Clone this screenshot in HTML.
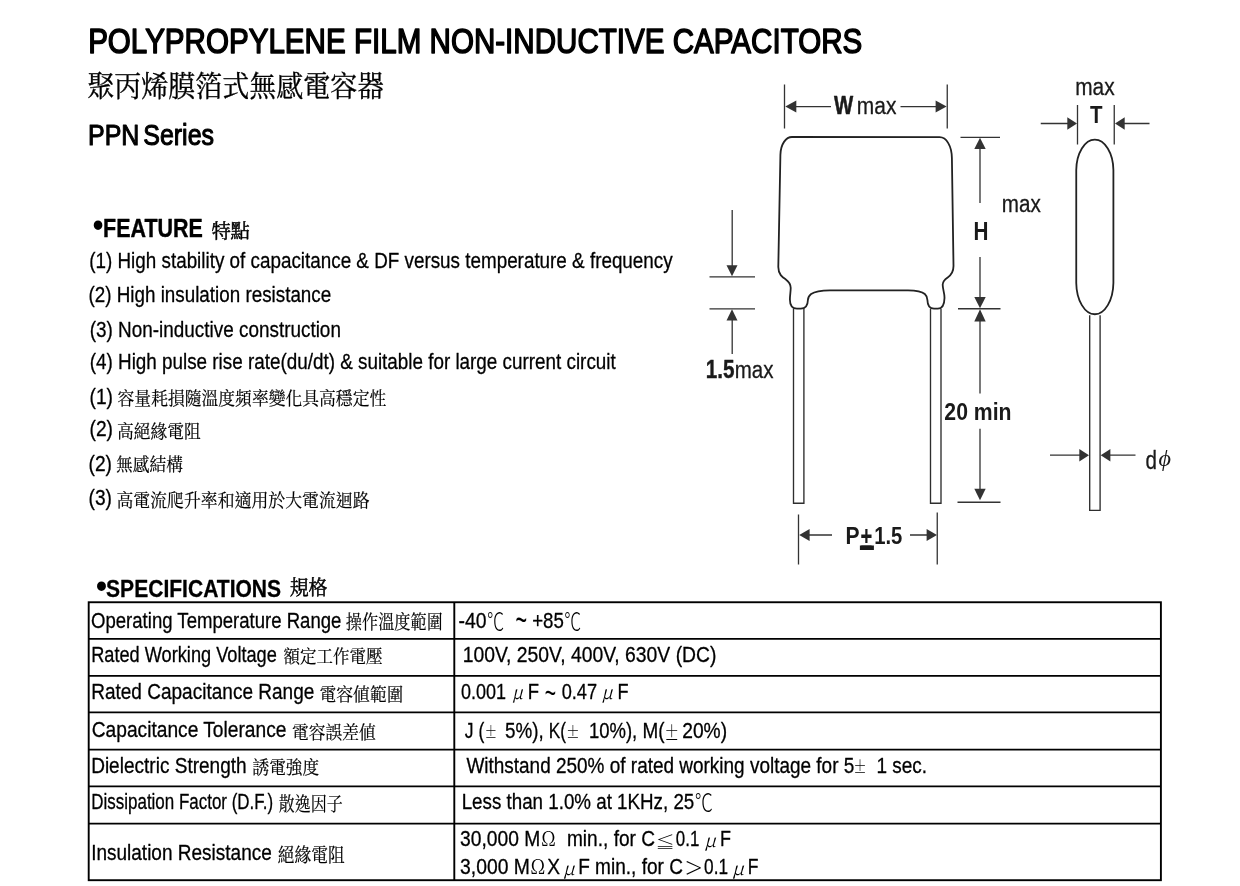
<!DOCTYPE html>
<html lang="zh-Hant">
<head>
<meta charset="utf-8">
<title>Polypropylene Film Non-Inductive Capacitors - PPN Series</title>
<style>
html,body{margin:0;padding:0;background:#fff;}
body{width:1240px;height:886px;overflow:hidden;position:relative;font-family:"Liberation Sans","Noto Serif CJK SC",sans-serif;}
svg{will-change:transform;position:absolute;left:0;top:0;display:block;}
text{white-space:pre;}
</style>
</head>
<body>
<svg width="1240" height="886" viewBox="0 0 1240 886">
<g class="table-lines" fill="none" stroke="#000" stroke-width="1.9">
<rect x="88.7" y="602.25" width="1072.2" height="277.95"/>
<path d="M454.3 602.25V880.2M88.7 638.85H1160.9M88.7 675.9H1160.9M88.7 712.4H1160.9M88.7 749.6H1160.9M88.7 786.35H1160.9M88.7 823.6H1160.9"/>
</g>
<g class="cap-front" fill="none" stroke="#222" stroke-width="1.8" stroke-linejoin="round">
<path d="M792 137L939.6 137.2C946.5 137.2 951.7 146 951.9 158L953.5 266C953.5 272 950.5 275.5 947.7 277.4C944.5 279.5 942.8 281 942.7 284.5C942.6 289 944.6 293 944.5 298C944.4 305 942 308.6 937.8 308.7L934 308.7C929.5 308.6 927.5 305 927.4 300C927.3 297.5 926.5 295.5 924.8 294C922 291.6 917 290.5 908 290.4L830 290.4C820 290.6 814.5 291.8 811.1 294C808.5 296 808 298 807.9 300C807.8 305 805.6 308.6 800.8 308.7L797 308.7C792.2 308.6 789.9 305 789.9 299.5C789.9 295 790.8 291 790.7 287.7C790.6 283.5 788.5 281.3 785.8 279.4C782.5 277.2 778.3 274.5 778.3 267L780.4 155C780.6 144 786 137 792 137Z"/>
</g>
<g class="leads" fill="none" stroke="#2e2e2e" stroke-width="1.35">
<path d="M793.5 308.8V503.2H803.9V308.8"/>
<path d="M930.5 308.8V503.2H941V308.8"/>
<path d="M1089.7 315.3V510.3H1100.1V315.3"/>
</g>
<g class="cap-side" fill="none" stroke="#222" stroke-width="1.8">
<path d="M1076.25 170A18.58 31.15 0 0 1 1113.4 170V283A18.58 32 0 0 1 1076.25 283Z"/>
</g>
<rect class="pm-bar" x="859.9" y="545.5" width="14" height="4.5" fill="#1a1a1a"/>
<g class="dims" fill="none" stroke="#333" stroke-width="1.3">
<path d="M784.5 84.5V128.5M947.25 84.5V128.5M795 106.6H831M900.5 106.6H937.5"/>
<path d="M960.5 137.3H1000M980 148V203M980 257V298M958 308.75H1000.5M980 320V393.5M980 428.75V490M957.5 502.25H1000.5"/>
<path d="M732.2 210V267M709.5 276.9H755M709.5 308.85H755M732.2 319V354"/>
<path d="M798.5 514.5V564.5M937.25 512.5V564.5M808 535H832M910 535H928"/>
<path d="M1077.5 105V144.5M1114.25 105V144.5M1040.75 123.5H1069M1123 123.5H1149.5"/>
<path d="M1050 455.2H1081M1109 455.2H1135.5"/>
</g>
<g class="arrowheads" fill="#333" stroke="none">
<path d="M785.3 106.6L796.3 100.6V112.6Z"/><path d="M946.6 106.6L935.6 100.6V112.6Z"/>
<path d="M980 137.8L974.3 149H985.7Z"/><path d="M980 308.2L974.3 297H985.7Z"/>
<path d="M980 309.3L974.3 321.5H985.7Z"/><path d="M980 500.2L974.3 488.7H985.7Z"/>
<path d="M732 276.3L726.5 265.3H737.5Z"/><path d="M732 309.3L726.5 320.5H737.5Z"/>
<path d="M799.2 535L809.6 529V541Z"/><path d="M937 535L926.6 529V541Z"/>
<path d="M1077 123.5L1067.3 117.3V129.7Z"/><path d="M1115 123.5L1124.7 117.3V129.7Z"/>
<path d="M1089 455.2L1079.3 449V461.4Z"/><path d="M1100.7 455.2L1110.4 449V461.4Z"/>
</g>

<g class="hdr">
<text transform="translate(88.13 52.85) scale(0.8493 1)" font-family='"Liberation Sans", sans-serif' font-size="34.84" stroke="#000" stroke-width="1.5" stroke-linejoin="round">POLYPROPYLENE FILM NON-INDUCTIVE CAPACITORS</text>
<text transform="translate(87.32 96.69) scale(0.9292 1)" font-family='"Noto Serif CJK TC", "Noto Serif CJK SC", serif' font-size="29.06" stroke="#000" stroke-width="0.35" stroke-linejoin="round">聚丙烯膜箔式無感電容器</text>
<text transform="translate(88.02 145.05) scale(0.8566 1)" font-family='"Liberation Sans", sans-serif' font-size="29.16" stroke="#000" stroke-width="1.1" stroke-linejoin="round" word-spacing="-3.5">PPN Series</text>
</g>
<g class="feature">
<text transform="translate(92.75 236.03) scale(0.8937 1)" font-family='"Liberation Sans", sans-serif' font-size="33.92" font-weight="700">•</text>
<text transform="translate(103.07 237.3) scale(0.8230 1)" font-family='"Liberation Sans", sans-serif' font-size="26.1" font-weight="700" stroke="#000" stroke-width="0.4" stroke-linejoin="round">FEATURE</text>
<text transform="translate(211.39 238.1) scale(0.9776 1)" font-family='"Noto Serif CJK TC", "Noto Serif CJK SC", serif' font-size="19.67" stroke="#000" stroke-width="0.5" stroke-linejoin="round">特點</text>
<text transform="translate(89.24 267.85) scale(0.8443 1)" font-family='"Liberation Sans", sans-serif' font-size="22.33" stroke="#000" stroke-width="0.3" stroke-linejoin="round">(1) High stability of capacitance &amp; DF versus temperature &amp; frequency</text>
<text transform="translate(88.49 302.35) scale(0.8436 1)" font-family='"Liberation Sans", sans-serif' font-size="22.33" stroke="#000" stroke-width="0.3" stroke-linejoin="round">(2) High insulation resistance</text>
<text transform="translate(89.74 336.85) scale(0.8469 1)" font-family='"Liberation Sans", sans-serif' font-size="22.33" stroke="#000" stroke-width="0.3" stroke-linejoin="round">(3) Non-inductive construction</text>
<text transform="translate(89.74 369.35) scale(0.8448 1)" font-family='"Liberation Sans", sans-serif' font-size="22.33" stroke="#000" stroke-width="0.3" stroke-linejoin="round">(4) High pulse rise rate(du/dt) &amp; suitable for large current circuit</text>
<text transform="translate(89.53 404.45) scale(0.8587 1)" font-family='"Liberation Sans", sans-serif' font-size="22.33" stroke="#000" stroke-width="0.3" stroke-linejoin="round">(1)</text>
<text transform="translate(117.57 405.11) scale(0.9189 1)" font-family='"Noto Serif CJK TC", "Noto Serif CJK SC", serif' font-size="18.29" stroke="#000" stroke-width="0.2" stroke-linejoin="round">容量耗損隨溫度頻率變化具高穩定性</text>
<text transform="translate(89.53 436.45) scale(0.8587 1)" font-family='"Liberation Sans", sans-serif' font-size="22.33" stroke="#000" stroke-width="0.3" stroke-linejoin="round">(2)</text>
<text transform="translate(116.9 438.15) scale(0.8971 1)" font-family='"Noto Serif CJK TC", "Noto Serif CJK SC", serif' font-size="18.68" stroke="#000" stroke-width="0.2" stroke-linejoin="round">高絕緣電阻</text>
<text transform="translate(88.53 470.55) scale(0.8587 1)" font-family='"Liberation Sans", sans-serif' font-size="22.33" stroke="#000" stroke-width="0.3" stroke-linejoin="round">(2)</text>
<text transform="translate(116.01 471.24) scale(0.9295 1)" font-family='"Noto Serif CJK TC", "Noto Serif CJK SC", serif' font-size="18.06" stroke="#000" stroke-width="0.2" stroke-linejoin="round">無感結構</text>
<text transform="translate(88.53 505.35) scale(0.8587 1)" font-family='"Liberation Sans", sans-serif' font-size="22.33" stroke="#000" stroke-width="0.3" stroke-linejoin="round">(3)</text>
<text transform="translate(116.5 506.68) scale(0.9134 1)" font-family='"Noto Serif CJK TC", "Noto Serif CJK SC", serif' font-size="18.48" stroke="#000" stroke-width="0.2" stroke-linejoin="round">高電流爬升率和適用於大電流迴路</text>
</g>
<g class="spec">
<text transform="translate(95.92 596.72) scale(0.9413 1)" font-family='"Liberation Sans", sans-serif' font-size="33.28" font-weight="700">•</text>
<text transform="translate(106.05 596.85) scale(0.8867 1)" font-family='"Liberation Sans", sans-serif' font-size="23.75" font-weight="700" stroke="#000" stroke-width="0.3" stroke-linejoin="round">SPECIFICATIONS</text>
<text transform="translate(289.64 594.85) scale(0.9356 1)" font-family='"Noto Serif CJK TC", "Noto Serif CJK SC", serif' font-size="20.27" stroke="#000" stroke-width="0.5" stroke-linejoin="round">規格</text>
</g>
<g class="row1">
<text transform="translate(91.01 627.85) scale(0.8535 1)" font-family='"Liberation Sans", sans-serif' font-size="21.76" stroke="#000" stroke-width="0.3" stroke-linejoin="round">Operating Temperature Range</text>
<text transform="translate(345.83 629.37) scale(0.8545 1)" font-family='"Noto Serif CJK TC", "Noto Serif CJK SC", serif' font-size="18.94" stroke="#000" stroke-width="0.2" stroke-linejoin="round">操作溫度範圍</text>
<text transform="translate(458.53 627.65) scale(0.8853 1)" font-family='"Liberation Sans", sans-serif' font-size="21.9" stroke="#000" stroke-width="0.3" stroke-linejoin="round">-40</text>
<text transform="translate(486.89 629.62) scale(0.7078 1)" font-family='"Noto Sans CJK SC", sans-serif' font-size="24.32" font-weight="300">℃</text>
<text transform="translate(515.38 631.76) scale(0.5677 1)" font-family='"Liberation Sans", sans-serif' font-size="34.84">~</text>
<text transform="translate(532.15 627.65) scale(0.8526 1)" font-family='"Liberation Sans", sans-serif' font-size="21.9" stroke="#000" stroke-width="0.3" stroke-linejoin="round">+85</text>
<text transform="translate(564.3 629.62) scale(0.6987 1)" font-family='"Noto Sans CJK SC", sans-serif' font-size="24.32" font-weight="300">℃</text>
</g>
<g class="row2">
<text transform="translate(91.2 661.65) scale(0.8357 1)" font-family='"Liberation Sans", sans-serif' font-size="21.76" stroke="#000" stroke-width="0.3" stroke-linejoin="round">Rated Working Voltage</text>
<text transform="translate(283.58 663.17) scale(0.9224 1)" font-family='"Noto Serif CJK TC", "Noto Serif CJK SC", serif' font-size="17.86" stroke="#000" stroke-width="0.2" stroke-linejoin="round">額定工作電壓</text>
<text transform="translate(462.67 661.75) scale(0.8894 1)" font-family='"Liberation Sans", sans-serif' font-size="21.76" stroke="#000" stroke-width="0.3" stroke-linejoin="round">100V, 250V, 400V, 630V (DC)</text>
</g>
<g class="row3">
<text transform="translate(91.14 698.95) scale(0.8746 1)" font-family='"Liberation Sans", sans-serif' font-size="21.76" stroke="#000" stroke-width="0.3" stroke-linejoin="round">Rated Capacitance Range</text>
<text transform="translate(319.57 701.15) scale(0.8984 1)" font-family='"Noto Serif CJK TC", "Noto Serif CJK SC", serif' font-size="18.68" stroke="#000" stroke-width="0.2" stroke-linejoin="round">電容値範圍</text>
<text transform="translate(461.06 698.85) scale(0.8272 1)" font-family='"Liberation Sans", sans-serif' font-size="21.76" stroke="#000" stroke-width="0.3" stroke-linejoin="round">0.001</text>
<text transform="translate(512 699.18) scale(0.9275 1)" font-family='"Noto Serif CJK SC", serif' font-size="18.4" font-style="italic">μ</text>
<text transform="translate(527.68 698.85) scale(0.8497 1)" font-family='"Liberation Sans", sans-serif' font-size="21.76" stroke="#000" stroke-width="0.3" stroke-linejoin="round">F</text>
<text transform="translate(544.69 704.37) scale(0.5682 1)" font-family='"Liberation Sans", sans-serif' font-size="34.13">~</text>
<text transform="translate(561.66 698.85) scale(0.8372 1)" font-family='"Liberation Sans", sans-serif' font-size="21.76" stroke="#000" stroke-width="0.3" stroke-linejoin="round">0.47</text>
<text transform="translate(601.48 699.18) scale(0.9543 1)" font-family='"Noto Serif CJK SC", serif' font-size="18.4" font-style="italic">μ</text>
<text transform="translate(617.41 698.85) scale(0.8318 1)" font-family='"Liberation Sans", sans-serif' font-size="21.76" stroke="#000" stroke-width="0.3" stroke-linejoin="round">F</text>
</g>
<g class="row4">
<text transform="translate(91.73 737.35) scale(0.8816 1)" font-family='"Liberation Sans", sans-serif' font-size="21.76" stroke="#000" stroke-width="0.3" stroke-linejoin="round">Capacitance Tolerance</text>
<text transform="translate(292.07 739.39) scale(0.9246 1)" font-family='"Noto Serif CJK TC", "Noto Serif CJK SC", serif' font-size="18.08" stroke="#000" stroke-width="0.2" stroke-linejoin="round">電容誤差値</text>
<text transform="translate(464.85 737.85) scale(0.8033 1)" font-family='"Liberation Sans", sans-serif' font-size="21.76" stroke="#000" stroke-width="0.3" stroke-linejoin="round">J (</text>
<text transform="translate(484.71 738) scale(0.7560 1)" font-family='"Noto Serif CJK SC", serif' font-size="16.31" font-weight="600">±</text>
<text transform="translate(505.04 737.85) scale(0.8658 1)" font-family='"Liberation Sans", sans-serif' font-size="21.76" stroke="#000" stroke-width="0.3" stroke-linejoin="round">5%),</text>
<text transform="translate(548.78 737.85) scale(0.7900 1)" font-family='"Liberation Sans", sans-serif' font-size="21.76" stroke="#000" stroke-width="0.3" stroke-linejoin="round">K(</text>
<text transform="translate(566.33 738) scale(0.8173 1)" font-family='"Noto Serif CJK SC", serif' font-size="16.31" font-weight="600">±</text>
<text transform="translate(588.97 737.85) scale(0.8494 1)" font-family='"Liberation Sans", sans-serif' font-size="21.76" stroke="#000" stroke-width="0.3" stroke-linejoin="round">10%),</text>
<text transform="translate(642.4 737.85) scale(0.8694 1)" font-family='"Liberation Sans", sans-serif' font-size="21.76" stroke="#000" stroke-width="0.3" stroke-linejoin="round">M(</text>
<text transform="translate(664.48 740.3) scale(0.7569 1)" font-family='"Noto Serif CJK SC", serif' font-size="19.2" font-weight="600">±</text>
<text transform="translate(682.23 737.85) scale(0.8835 1)" font-family='"Liberation Sans", sans-serif' font-size="21.76" stroke="#000" stroke-width="0.3" stroke-linejoin="round">20%)</text>
</g>
<g class="row5">
<text transform="translate(91.14 772.55) scale(0.8749 1)" font-family='"Liberation Sans", sans-serif' font-size="21.76" stroke="#000" stroke-width="0.3" stroke-linejoin="round">Dielectric Strength</text>
<text transform="translate(252.57 773.86) scale(0.9082 1)" font-family='"Noto Serif CJK TC", "Noto Serif CJK SC", serif' font-size="18.34" stroke="#000" stroke-width="0.2" stroke-linejoin="round">誘電強度</text>
<text transform="translate(466.38 772.55) scale(0.8717 1)" font-family='"Liberation Sans", sans-serif' font-size="21.76" stroke="#000" stroke-width="0.3" stroke-linejoin="round">Withstand 250% of rated working voltage for 5</text>
<text transform="translate(853.47 773) scale(0.7888 1)" font-family='"Noto Serif CJK SC", serif' font-size="16.56" font-weight="600">±</text>
<text transform="translate(876.44 772.55) scale(0.8723 1)" font-family='"Liberation Sans", sans-serif' font-size="21.76" stroke="#000" stroke-width="0.3" stroke-linejoin="round">1 sec.</text>
</g>
<g class="row6">
<text transform="translate(91.29 809.35) scale(0.7798 1)" font-family='"Liberation Sans", sans-serif' font-size="21.76" stroke="#000" stroke-width="0.3" stroke-linejoin="round">Dissipation Factor (D.F.)</text>
<text transform="translate(278.83 810.62) scale(0.8438 1)" font-family='"Noto Serif CJK TC", "Noto Serif CJK SC", serif' font-size="18.99" stroke="#000" stroke-width="0.2" stroke-linejoin="round">散逸因子</text>
<text transform="translate(461.66 809.35) scale(0.8627 1)" font-family='"Liberation Sans", sans-serif' font-size="21.76" stroke="#000" stroke-width="0.3" stroke-linejoin="round">Less than 1.0% at 1KHz, 25</text>
<text transform="translate(694.65 811.42) scale(0.7486 1)" font-family='"Noto Sans CJK SC", sans-serif' font-size="24.32" font-weight="300">℃</text>
</g>
<g class="row7">
<text transform="translate(91.15 860.25) scale(0.8738 1)" font-family='"Liberation Sans", sans-serif' font-size="21.76" stroke="#000" stroke-width="0.3" stroke-linejoin="round">Insulation Resistance</text>
<text transform="translate(277.83 861.85) scale(0.8680 1)" font-family='"Noto Serif CJK TC", "Noto Serif CJK SC", serif' font-size="19.25" stroke="#000" stroke-width="0.2" stroke-linejoin="round">絕緣電阻</text>
<text transform="translate(460.03 846.15) scale(0.8860 1)" font-family='"Liberation Sans", sans-serif' font-size="21.76" stroke="#000" stroke-width="0.3" stroke-linejoin="round">30,000 M</text>
<text transform="translate(541.43 846.3) scale(0.8984 1)" font-family='"Noto Serif CJK SC", serif' font-size="20.13">Ω</text>
<text transform="translate(566.94 846.15) scale(0.8778 1)" font-family='"Liberation Sans", sans-serif' font-size="21.76" stroke="#000" stroke-width="0.3" stroke-linejoin="round">min., for C</text>
<text transform="translate(655.4 847.85) scale(1.1958 1)" font-family='"Noto Serif CJK SC", serif' font-size="16.06">≦</text>
<text transform="translate(675.84 846.15) scale(0.7762 1)" font-family='"Liberation Sans", sans-serif' font-size="21.76" stroke="#000" stroke-width="0.3" stroke-linejoin="round">0.1</text>
<text transform="translate(704.13 847.16) scale(1.0256 1)" font-family='"Noto Serif CJK SC", serif' font-size="18" font-style="italic">μ</text>
<text transform="translate(719.97 846.15) scale(0.8274 1)" font-family='"Liberation Sans", sans-serif' font-size="21.76" stroke="#000" stroke-width="0.3" stroke-linejoin="round">F</text>
<text transform="translate(460.03 873.8) scale(0.8889 1)" font-family='"Liberation Sans", sans-serif' font-size="21.76" stroke="#000" stroke-width="0.3" stroke-linejoin="round">3,000 M</text>
<text transform="translate(530.67 873.95) scale(0.9126 1)" font-family='"Noto Serif CJK SC", serif' font-size="20.2">Ω</text>
<text transform="translate(547.33 873.8) scale(0.8778 1)" font-family='"Liberation Sans", sans-serif' font-size="21.76" stroke="#000" stroke-width="0.3" stroke-linejoin="round">X</text>
<text transform="translate(562.88 874.66) scale(1.0256 1)" font-family='"Noto Serif CJK SC", serif' font-size="18" font-style="italic">μ</text>
<text transform="translate(578.14 873.8) scale(0.8763 1)" font-family='"Liberation Sans", sans-serif' font-size="21.76" stroke="#000" stroke-width="0.3" stroke-linejoin="round">F min., for C</text>
<text transform="translate(684.25 876.84) scale(1.2319 1)" font-family='"Noto Serif CJK SC", serif' font-size="25.98">&gt;</text>
<text transform="translate(704.08 873.8) scale(0.7934 1)" font-family='"Liberation Sans", sans-serif' font-size="21.76" stroke="#000" stroke-width="0.3" stroke-linejoin="round">0.1</text>
<text transform="translate(732.12 874.66) scale(1.0484 1)" font-family='"Noto Serif CJK SC", serif' font-size="18" font-style="italic">μ</text>
<text transform="translate(747.75 873.8) scale(0.8050 1)" font-family='"Liberation Sans", sans-serif' font-size="21.76" stroke="#000" stroke-width="0.3" stroke-linejoin="round">F</text>
</g>
<g class="diagram">
<text transform="translate(834 113.95) scale(0.8174 1)" font-family='"Liberation Sans", sans-serif' font-size="24.89" font-weight="700" fill="#1a1a1a" stroke="#1a1a1a" stroke-width="0.5" stroke-linejoin="round">W</text>
<text transform="translate(856.82 113.65) scale(0.8813 1)" font-family='"Liberation Sans", sans-serif' font-size="23.75" fill="#1a1a1a" stroke="#1a1a1a" stroke-width="0.3" stroke-linejoin="round">max</text>
<text transform="translate(1075.23 94.65) scale(0.8790 1)" font-family='"Liberation Sans", sans-serif' font-size="23.75" fill="#1a1a1a" stroke="#1a1a1a" stroke-width="0.3" stroke-linejoin="round">max</text>
<text transform="translate(1090 123.1) scale(0.8337 1)" font-family='"Liberation Sans", sans-serif' font-size="24.6" font-weight="700" fill="#1a1a1a">T</text>
<text transform="translate(1001.84 211.75) scale(0.8699 1)" font-family='"Liberation Sans", sans-serif' font-size="23.75" fill="#1a1a1a" stroke="#1a1a1a" stroke-width="0.3" stroke-linejoin="round">max</text>
<text transform="translate(973.51 240.1) scale(0.8229 1)" font-family='"Liberation Sans", sans-serif' font-size="25.17" font-weight="700" fill="#1a1a1a">H</text>
<text transform="translate(705.77 377.9) scale(0.8270 1)" font-family='"Liberation Sans", sans-serif' font-size="25.03" font-weight="700" fill="#1a1a1a" stroke="#1a1a1a" stroke-width="0.4" stroke-linejoin="round">1.5</text>
<text transform="translate(734.75 377.65) scale(0.8840 1)" font-family='"Liberation Sans", sans-serif' font-size="23.18" fill="#1a1a1a" stroke="#1a1a1a" stroke-width="0.3" stroke-linejoin="round">max</text>
<text transform="translate(944.34 419.8) scale(0.8670 1)" font-family='"Liberation Sans", sans-serif' font-size="24.46" font-weight="700" fill="#1a1a1a">20 min</text>
<text transform="translate(845.48 543.8) scale(0.8577 1)" font-family='"Liberation Sans", sans-serif' font-size="24.6" font-weight="700" fill="#1a1a1a">P</text>
<text transform="translate(860.68 548.5) scale(0.6657 1)" font-family='"Liberation Sans", sans-serif' font-size="30.88" font-weight="700" fill="#1a1a1a">±</text>
<text transform="translate(874.13 543.8) scale(0.8236 1)" font-family='"Liberation Sans", sans-serif' font-size="24.6" font-weight="700" fill="#1a1a1a">1.5</text>
<text transform="translate(1145.48 469.35) scale(0.8182 1)" font-family='"Liberation Sans", sans-serif' font-size="25.17" fill="#1a1a1a" stroke="#1a1a1a" stroke-width="0.3" stroke-linejoin="round">d</text>
<text transform="translate(1158.52 465.73) scale(1.0031 1)" font-family='"Liberation Serif", serif' font-size="24.08" font-style="italic" fill="#1a1a1a">ϕ</text>
</g>
</svg>
</body>
</html>
